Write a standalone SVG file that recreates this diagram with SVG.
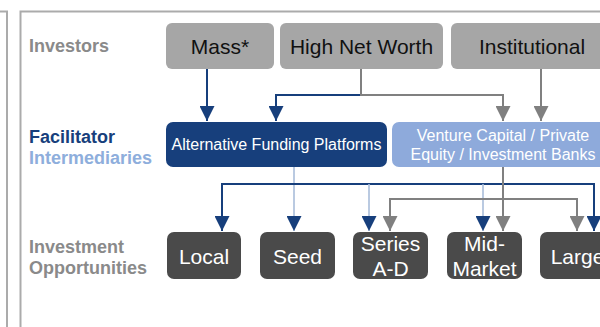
<svg xmlns="http://www.w3.org/2000/svg" width="600" height="327" viewBox="0 0 600 327">
<style>
.frame{fill:none;stroke:#ababab;stroke-width:2}
.lbl{font-family:"Liberation Sans",Arial,sans-serif;font-weight:bold;font-size:18px}
.gray{fill:#8a8a8a}
.dk{fill:#173f7c}
.lt{fill:#8eaedc}
.nt{font-family:"Liberation Sans",Arial,sans-serif;text-anchor:middle}
.inv rect{fill:#a6a6a6}
.inv text{font-size:21px;fill:#111}
.opp rect{fill:#4a4a4a}
.opp text{font-size:21px;fill:#fff}
.fac text{font-size:16px;fill:#fff}
.c{fill:none;stroke-width:2}
.cb{stroke:#173f7c}
.cg{stroke:#808080}
.cl{stroke:#a9bdda;stroke-width:1.6}
</style>
<defs>
<marker id="ab" viewBox="0 0 15 15" refX="15" refY="7.5" markerWidth="15" markerHeight="15" markerUnits="userSpaceOnUse" orient="auto"><path d="M0,0 L15,7.5 L0,15 z" fill="#173f7c"/></marker>
<marker id="ag" viewBox="0 0 15 15" refX="15" refY="7.5" markerWidth="15" markerHeight="15" markerUnits="userSpaceOnUse" orient="auto"><path d="M0,0 L15,7.5 L0,15 z" fill="#808080"/></marker>
</defs>
<rect class="frame" x="-20" y="11.5" width="27" height="340"/>
<rect class="frame" x="20.5" y="11.5" width="600" height="340"/>
<g id="labels">
<text class="lbl gray" x="29" y="52">Investors</text>
<text class="lbl dk" x="29" y="143">Facilitator</text>
<text class="lbl lt" x="29" y="164">Intermediaries</text>
<text class="lbl gray" x="29" y="253">Investment</text>
<text class="lbl gray" x="29" y="274">Opportunities</text>
</g>
<g id="connectors">
<path class="c cb" d="M207,69 V121" marker-end="url(#ab)"/>
<path class="c cb" d="M361,95 H276 V121" marker-end="url(#ab)"/>
<path class="c cg" d="M361,69 V95 H503 V121" marker-end="url(#ag)"/>
<path class="c cg" d="M541,69 V121" marker-end="url(#ag)"/>
<path class="c cl" d="M294,167 V231" marker-end="url(#ab)"/>
<path class="c cb" d="M222,231 V184 H594 V231" marker-end="url(#ab)"/>
<path class="c cb" d="M222,184 V231" marker-end="url(#ab)"/>
<path class="c cl" d="M369,184 V231" marker-end="url(#ab)"/>
<path class="c cl" d="M483,184 V231" marker-end="url(#ab)"/>
<path class="c cg" d="M503,167 V231" marker-end="url(#ag)"/>
<path class="c cg" d="M390,231 V199 H577 V231" marker-end="url(#ag)"/>
<path class="c cg" d="M390,199 V231" marker-end="url(#ag)"/>
</g>
<g id="mass" class="inv nt"><rect x="166" y="23" width="108" height="46" rx="6"/><text x="220" y="54">Mass*</text></g>
<g id="hnw" class="inv nt"><rect x="280" y="23" width="163" height="46" rx="6"/><text x="361.5" y="54">High Net Worth</text></g>
<g id="institutional" class="inv nt"><rect x="451" y="23" width="162" height="46" rx="6"/><text x="532" y="54">Institutional</text></g>
<g id="altfunding" class="fac nt"><rect x="166" y="122" width="221" height="45" rx="7" fill="#173f7c"/><text x="276.5" y="150">Alternative Funding Platforms</text></g>
<g id="vc" class="fac nt"><rect x="392" y="122" width="222" height="45" rx="7" fill="#8eaadb"/><text x="503" y="141">Venture Capital / Private</text><text x="503" y="160">Equity / Investment Banks</text></g>
<g id="local" class="opp nt"><rect x="167" y="232" width="74" height="47" rx="7"/><text x="204" y="264">Local</text></g>
<g id="seed" class="opp nt"><rect x="260" y="232" width="75" height="47" rx="7"/><text x="297.5" y="264">Seed</text></g>
<g id="series" class="opp nt"><rect x="353" y="232" width="75" height="47" rx="7"/><text x="390.5" y="251">Series</text><text x="390.5" y="276">A-D</text></g>
<g id="midmarket" class="opp nt"><rect x="447" y="232" width="75" height="47" rx="7"/><text x="484.5" y="251">Mid-</text><text x="484.5" y="276">Market</text></g>
<g id="large" class="opp nt"><rect x="540" y="232" width="75" height="47" rx="7"/><text x="577.5" y="264">Large</text></g>
</svg>
